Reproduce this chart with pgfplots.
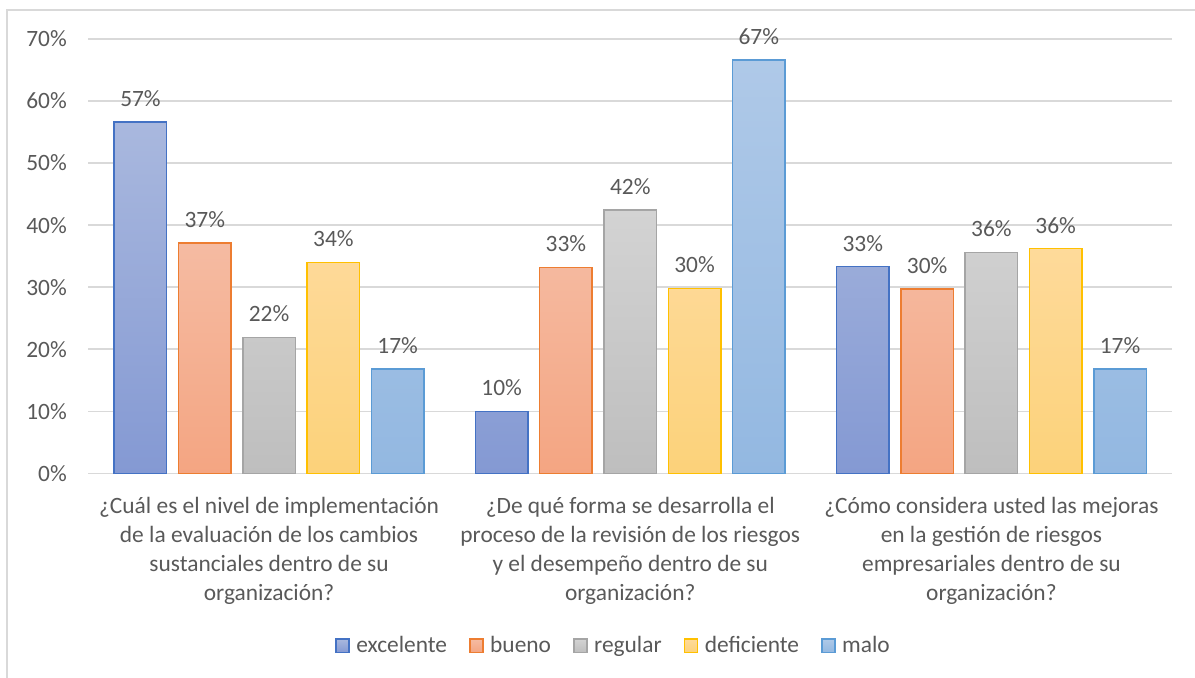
\documentclass[border=0pt]{standalone}
\usepackage{pgfplots}
\pgfplotsset{compat=1.18}
\usepackage{fontspec}
\setmainfont{Carlito}
\definecolor{txt}{HTML}{595959}
\definecolor{gridc}{HTML}{D9D9D9}
\definecolor{lA}{HTML}{4472C4}\definecolor{tA}{HTML}{A9B8DE}\definecolor{bA}{HTML}{8499D3}
\definecolor{lB}{HTML}{ED7D31}\definecolor{tB}{HTML}{F5BBA2}\definecolor{bB}{HTML}{F4A582}
\definecolor{lC}{HTML}{A5A5A5}\definecolor{tC}{HTML}{D3D3D3}\definecolor{bC}{HTML}{BEBEBE}
\definecolor{lD}{HTML}{FFC000}\definecolor{tD}{HTML}{FEDA9A}\definecolor{bD}{HTML}{FCD27A}
\definecolor{lE}{HTML}{5B9BD5}\definecolor{tE}{HTML}{AFC9E8}\definecolor{bE}{HTML}{93B8E1}
\begin{document}
\begin{tikzpicture}
\path[use as bounding box] (-44.25pt,236.65pt) rectangle (553.25pt,-101.85pt);
\draw[gridc, line width=0.75pt] (-40.75pt,-120pt) -- (-40.75pt,231.65pt) -- (570pt,231.65pt);
\begin{axis}[
  name=ax, at={(0,0)}, anchor=south west,
  scale only axis, width=541.75pt, height=217.15pt,
  ybar=5.9pt, bar width=26.25pt,
  xmin=-0.5, xmax=2.5, ymin=0, ymax=70,
  xtick={0,1,2},
  xticklabels={{¿Cuál es el nivel de implementación\\de la evaluación de los cambios\\sustanciales dentro de su\\organización?},
               {¿De qué forma se desarrolla el\\proceso de la revisión de los riesgos\\y el desempeño dentro de su\\organización?},
               {¿Cómo considera usted las mejoras\\en la gestión de riesgos\\empresariales dentro de su\\organización?}},
  ytick={0,10,20,30,40,50,60,70},
  yticklabels={0\%,10\%,20\%,30\%,40\%,50\%,60\%,70\%},
  /pgf/number format/assume math mode=true,
  tick label style={font=\fontsize{11.7}{14.5}\selectfont, text=txt},
  xticklabel style={align=center, yshift=-8.5pt},
  yticklabel style={anchor=east, xshift=-7.3pt},
  xmajorgrids=false, ymajorgrids=true,
  major tick length=0pt,
  xtick style={draw=none}, ytick style={draw=none},
  axis line style={draw=none},
  grid style={draw=gridc, line width=0.75pt},
  nodes near coords={\pgfmathprintnumber[fixed,precision=0]{\pgfplotspointmeta}\%},
  every node near coord/.append style={font=\fontsize{11.7}{13}\selectfont, text=txt, anchor=south, yshift=4pt},
  legend style={draw=none, fill=none, legend columns=-1, at={(0.4855,-0.397)}, anchor=center,
    font=\fontsize{11.7}{13}\selectfont, text=txt,
    /tikz/every even column/.append style={column sep=9pt}},
  legend image code/.code={\draw[#1] (0pt,-3.3pt) rectangle (6.6pt,3.3pt); \path (7.8pt,0pt);},
]
\addplot[draw=lA, line width=0.75pt, top color=tA, bottom color=bA] coordinates {(0,56.6) (1,10.0) (2,33.3)};
\addplot[draw=lB, line width=0.75pt, top color=tB, bottom color=bB] coordinates {(0,37.1) (1,33.2) (2,29.7)};
\addplot[draw=lC, line width=0.75pt, top color=tC, bottom color=bC] coordinates {(0,21.9) (1,42.4) (2,35.6)};
\addplot[draw=lD, line width=0.75pt, top color=tD, bottom color=bD] coordinates {(0,34.0) (1,29.8) (2,36.2)};
\addplot[draw=lE, line width=0.75pt, top color=tE, bottom color=bE] coordinates {(0,16.8) (1,66.6) (2,16.8)};
\legend{excelente,bueno,regular,deficiente,malo}
\end{axis}
\end{tikzpicture}
\end{document}
